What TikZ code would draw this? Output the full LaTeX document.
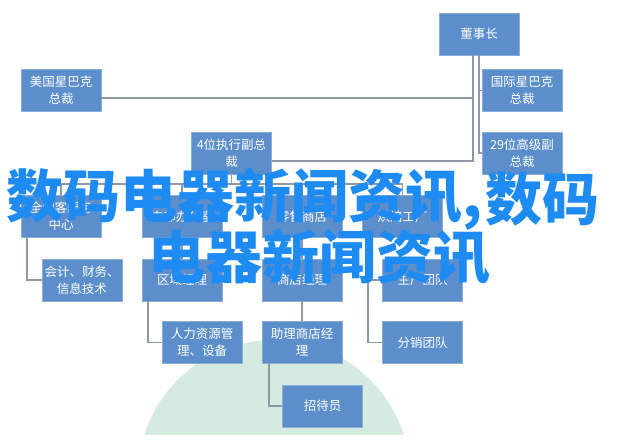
\documentclass[tikz,border=0pt]{standalone}
\usepackage{fontspec}
\setmainfont{Noto Sans CJK SC}
\newfontfamily\ovfont{Noto Sans CJK SC}
\usetikzlibrary{calc}
\definecolor{boxfill}{HTML}{5B8ECB}
\definecolor{boxline}{HTML}{8AAED9}
\definecolor{conn}{HTML}{8E99A5}
\definecolor{ovblue}{HTML}{1E8BF2}
\definecolor{wmgreen}{HTML}{D6EBDF}
\tikzset{
  orgbox/.style={rectangle, fill=boxfill, draw=boxline, line width=0.8pt,
    minimum width=80pt, minimum height=42pt, inner sep=0pt, align=center,
    text=white, font=\fontsize{12.5}{17}\selectfont},
  link/.style={draw=conn, line width=1.4pt},
  overlay/.style={text=ovblue, inner sep=0pt, anchor=west,
    font=\ovfont\bfseries\fontsize{57}{60}\selectfont}
}
\begin{document}
\begin{tikzpicture}[x=1pt,y=-1pt]
\useasboundingbox (0,0) rectangle (640,444);
\fill[white] (0,0) rectangle (640,444);
% faint watermark disc
\begin{scope}
  \clip (0,0) rectangle (640,434);
  \fill[wmgreen] (274,476) circle (136);
\end{scope}
% boxes
\node[orgbox] (dsz) at (479,34) {董事长};
\node[orgbox] (mg) at (61,90.5) {美国星巴克\\总裁};
\node[orgbox] (gj) at (522,90.5) {国际星巴克\\总裁};
\node[orgbox] (zx) at (231.5,153) {4位执行副总\\裁};
\node[orgbox] (gf) at (522,153) {29位高级副\\总裁};
\node[orgbox] (r3a) at (61,216.5) {全国客服务\\中心};
\node[orgbox] (r3b) at (182,216.5) {支部办公室};
\node[orgbox] (r3c) at (302,216.5) {零售商店};
\node[orgbox] (r3d) at (402.5,216.5) {烘焙工厂};
\node[orgbox] (kj) at (82,280) {会计、财务、\\信息技术};
\node[orgbox] (qy) at (182,280) {区域经理};
\node[orgbox] (sd) at (302,280) {商店经理};
\node[orgbox] (sc) at (422.5,280) {生产团队};
\node[orgbox] (rl) at (202,342.5) {人力资源管\\理、设备};
\node[orgbox] (zl) at (302,342.5) {助理商店经\\理};
\node[orgbox] (fx) at (422.5,342.5) {分销团队};
\node[orgbox] (zd) at (322.5,406) {招待员};
% connectors
\coordinate (tl) at (473,0);
\coordinate (bus) at (0,184);
\draw[link] ($(dsz.south)+(-6,0)$) -- ($(zx.east -| tl)+(0,8)$) -- ($(zx.east)+(0,8)$);
\draw[link] ($(mg.east)+(0,7.5)$) -- ($(mg.east -| tl)+(0,7.5)$);
\draw[link] (dsz.south) -- (dsz.south |- gf.west) -- (gf.west);
\draw[link] (dsz.south |- gj.west) -- (gj.west);
\draw[link] (zx.south) -- (zx.south |- bus);
\draw[link] (r3a.north) |- (r3d.north |- bus) -- (r3d.north);
\draw[link] (r3b.north) -- (r3b.north |- bus);
\draw[link] (r3c.north) -- (r3c.north |- bus);
\draw[link] ($(r3a.south)+(-34,0)$) |- (kj.west);
\draw[link] (r3b.south) -- (qy.north);
\draw[link] ($(qy.south)+(-34,0)$) |- (rl.west);
\draw[link] (r3c.south) -- (sd.north);
\draw[link] (sd.south) -- (zl.north);
\draw[link] ($(zl.south)+(-33,0)$) |- (zd.west);
\draw[link] ($(r3d.south)+(-34.5,0)$) |- (sc.west);
\draw[link] ($(r3d.south)+(-34.5,0)$) |- (fx.west);
% overlay text
\node[overlay] (ov1) at (6,199) {数码电器新闻资讯,};
\node[overlay] (ov2) at (485,199) {数码};
\node[overlay] (ov3) at (148,257) {电器新闻资讯};
\end{tikzpicture}
\end{document}
